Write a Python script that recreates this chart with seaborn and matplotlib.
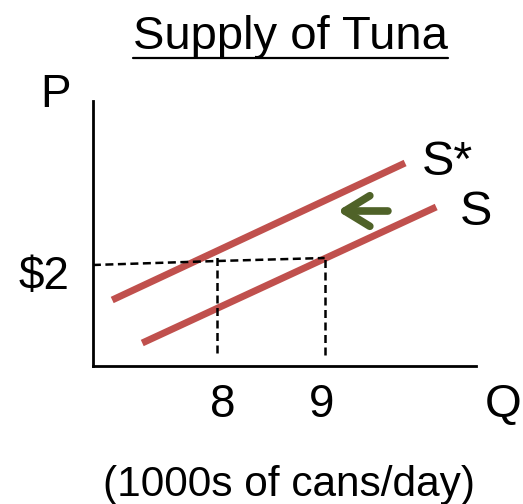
import matplotlib
matplotlib.use("Agg")
import matplotlib.pyplot as plt
import seaborn as sns
import pandas as pd
from matplotlib.lines import Line2D

# ---- data (Q in thousands of cans/day, P in $) ----
supply_q = [7.30, 10.04]
supply_p = [1.19, 2.55]
supply_star_q = [7.02, 9.75]
supply_star_p = [1.62, 2.99]
price_guide_q = [6.84, 8.0, 9.0]
price_guide_p = [1.97, 2.01, 2.04]
q8_guide_q = [8.0, 8.0]
q8_guide_p = [1.09, 2.07]
q9_guide_q = [9.0, 9.0]
q9_guide_p = [1.07, 2.04]
shift_from = (9.59, 2.51)
shift_to = (9.12, 2.51)
tick_labels_q = ["8", "9"]
tick_labels_p = ["$2"]

sns.set_style("white")
plt.rcParams['font.family'] = ['Liberation Sans', 'DejaVu Sans']

W, H = 523, 504
fig = plt.figure(figsize=(W / 100, H / 100), dpi=100)
ax = fig.add_axes([93 / W, 1 - 366 / H, (476 - 93) / W, (366 - 101) / H])

red = "#C0504D"
green = "#4F6228"

df_s = pd.DataFrame({"Q": supply_q, "P": supply_p})
df_ss = pd.DataFrame({"Q": supply_star_q, "P": supply_star_p})
sns.lineplot(data=df_s, x="Q", y="P", ax=ax, color=red, lw=5, sort=False,
             solid_capstyle="butt")
sns.lineplot(data=df_ss, x="Q", y="P", ax=ax, color=red, lw=5, sort=False,
             solid_capstyle="butt")

dash = dict(color="black", lw=1.8, dashes=(3.2, 1.8))
for qs, ps in [(price_guide_q, price_guide_p), (q8_guide_q, q8_guide_p), (q9_guide_q, q9_guide_p)]:
    ax.plot(qs, ps, **dash)

ax.annotate("", xy=shift_to, xytext=shift_from,
            arrowprops=dict(arrowstyle="->,head_length=0.9,head_width=0.55",
                            color=green, lw=5.5, capstyle="round",
                            joinstyle="round", shrinkA=0, shrinkB=0,
                            mutation_scale=20))

ax.set_xlim(6.841, 10.411)
ax.set_ylim(0.96, 3.61)
ax.set_xticks([])
ax.set_yticks([])
ax.set_xlabel("")
ax.set_ylabel("")
for side in ["top", "right"]:
    ax.spines[side].set_visible(False)
for side in ["left", "bottom"]:
    ax.spines[side].set_color("black")
    ax.spines[side].set_linewidth(2)

def px(x, y):
    return x / W, 1 - y / H

def ftext(x, y, s, size, ha="center", va="center_baseline"):
    fig.text(*px(x, y), s, fontsize=size, ha=ha, va=va, color="black")

ftext(290, 49, "Supply of Tuna", 34, va="baseline")
fig.add_artist(Line2D([133 / W, 448 / W], [1 - 58 / H, 1 - 58 / H],
                      color="black", lw=1.6, transform=fig.transFigure))
ftext(55, 107, "P", 33, va="baseline")
ftext(503, 417, "Q", 34, va="baseline")
ftext(447, 175, "S*", 35, va="baseline")
ftext(476, 225, "S", 35, va="baseline")
ftext(44, 289, tick_labels_p[0], 33, va="baseline")
ftext(223, 417, tick_labels_q[0], 33, va="baseline")
ftext(322, 417, tick_labels_q[1], 33, va="baseline")
ftext(289, 496, "(1000s of cans/day)", 30.5, va="baseline")

fig.savefig("out.png", dpi=100)
